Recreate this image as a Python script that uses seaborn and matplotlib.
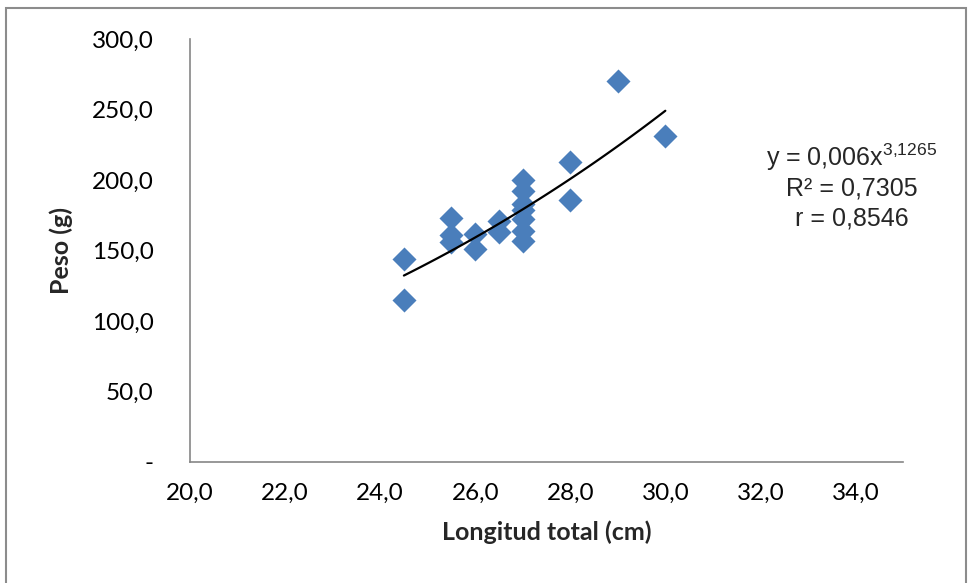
import numpy as np
import pandas as pd
import matplotlib
matplotlib.use("Agg")
import matplotlib.pyplot as plt
from matplotlib.patches import Rectangle
import seaborn as sns

# Data
longitud = [24.5, 24.5, 25.5, 25.5, 25.5, 26.0, 26.0, 26.5, 26.5,
            27.0, 27.0, 27.0, 27.0, 27.0, 27.0, 27.0, 28.0, 28.0, 29.0, 30.0]
peso = [144, 115, 173, 161, 156, 162, 151, 171, 163,
        200, 192, 183, 179, 172, 164, 157, 213, 186, 270, 231]

# power trend shown on the chart: y = a * x^b
coef_a = 0.006
coef_b = 3.1265
eq_lines = ["R² = 0,7305", "r = 0,8546"]

x_ticks = [20, 22, 24, 26, 28, 30, 32, 34]
x_ticklabels = ["20,0", "22,0", "24,0", "26,0", "28,0", "30,0", "32,0", "34,0"]
y_ticks = [0, 50, 100, 150, 200, 250, 300]
y_ticklabels = ["-", "50,0", "100,0", "150,0", "200,0", "250,0", "300,0"]

df = pd.DataFrame({"Longitud": longitud, "Peso": peso})

sns.set_style("white")
plt.rcParams['font.family'] = ['Lato', 'DejaVu Sans']
plt.rcParams['mathtext.fontset'] = 'custom'
plt.rcParams['mathtext.rm'] = 'Liberation Sans'

W, H = 969, 583
fig = plt.figure(figsize=(W / 100, H / 100), dpi=100)
ax = fig.add_axes([190 / W, 1 - 462 / H, (903 - 190) / W, (462 - 39) / H])

sns.scatterplot(data=df, x="Longitud", y="Peso", marker="D", s=150,
                color="#4A7EBB", edgecolor="#4A7EBB", linewidth=0, ax=ax, zorder=3)

xs = np.linspace(min(longitud), max(longitud), 100)
ax.plot(xs, coef_a * xs ** coef_b, color="black", lw=1.6, zorder=4)

ax.set_xlim(20, 35)
ax.set_ylim(0, 300)
ax.set_xticks(x_ticks)
ax.set_xticklabels(x_ticklabels)
ax.set_yticks(y_ticks)
ax.set_yticklabels(y_ticklabels)
ax.tick_params(axis='both', direction='out', length=6, width=1.2, color="#868686",
               labelsize=17.5, labelcolor="black")
ax.tick_params(axis='x', pad=9)
ax.tick_params(axis='y', pad=20)
for side in ["top", "right"]:
    ax.spines[side].set_visible(False)
for side in ["left", "bottom"]:
    ax.spines[side].set_color("#868686")
    ax.spines[side].set_linewidth(1.2)

ax.set_xlabel("Longitud total (cm)", fontsize=18, fontweight="bold", labelpad=12)
ax.set_ylabel("Peso (g)", fontsize=18, fontweight="bold", labelpad=14)

# equation text block
fig.text(852 / W, 1 - 157 / H, r"y = 0,006x$^{\mathregular{3{,}1265}}$", ha="center", va="center",
         fontsize=18, family="Liberation Sans")
fig.text(852 / W, 1 - 188 / H, eq_lines[0], ha="center", va="center",
         fontsize=18, family="Liberation Sans")
fig.text(852 / W, 1 - 218 / H, eq_lines[1], ha="center", va="center",
         fontsize=18, family="Liberation Sans")

# outer chart border
fig.patches.append(Rectangle((6 / W, -0.1), (966 - 6) / W, 1.1 - 8 / H,
                             transform=fig.transFigure, fill=False,
                             edgecolor="#8c8c8c", lw=1.5))

fig.savefig("out.png", dpi=100)
